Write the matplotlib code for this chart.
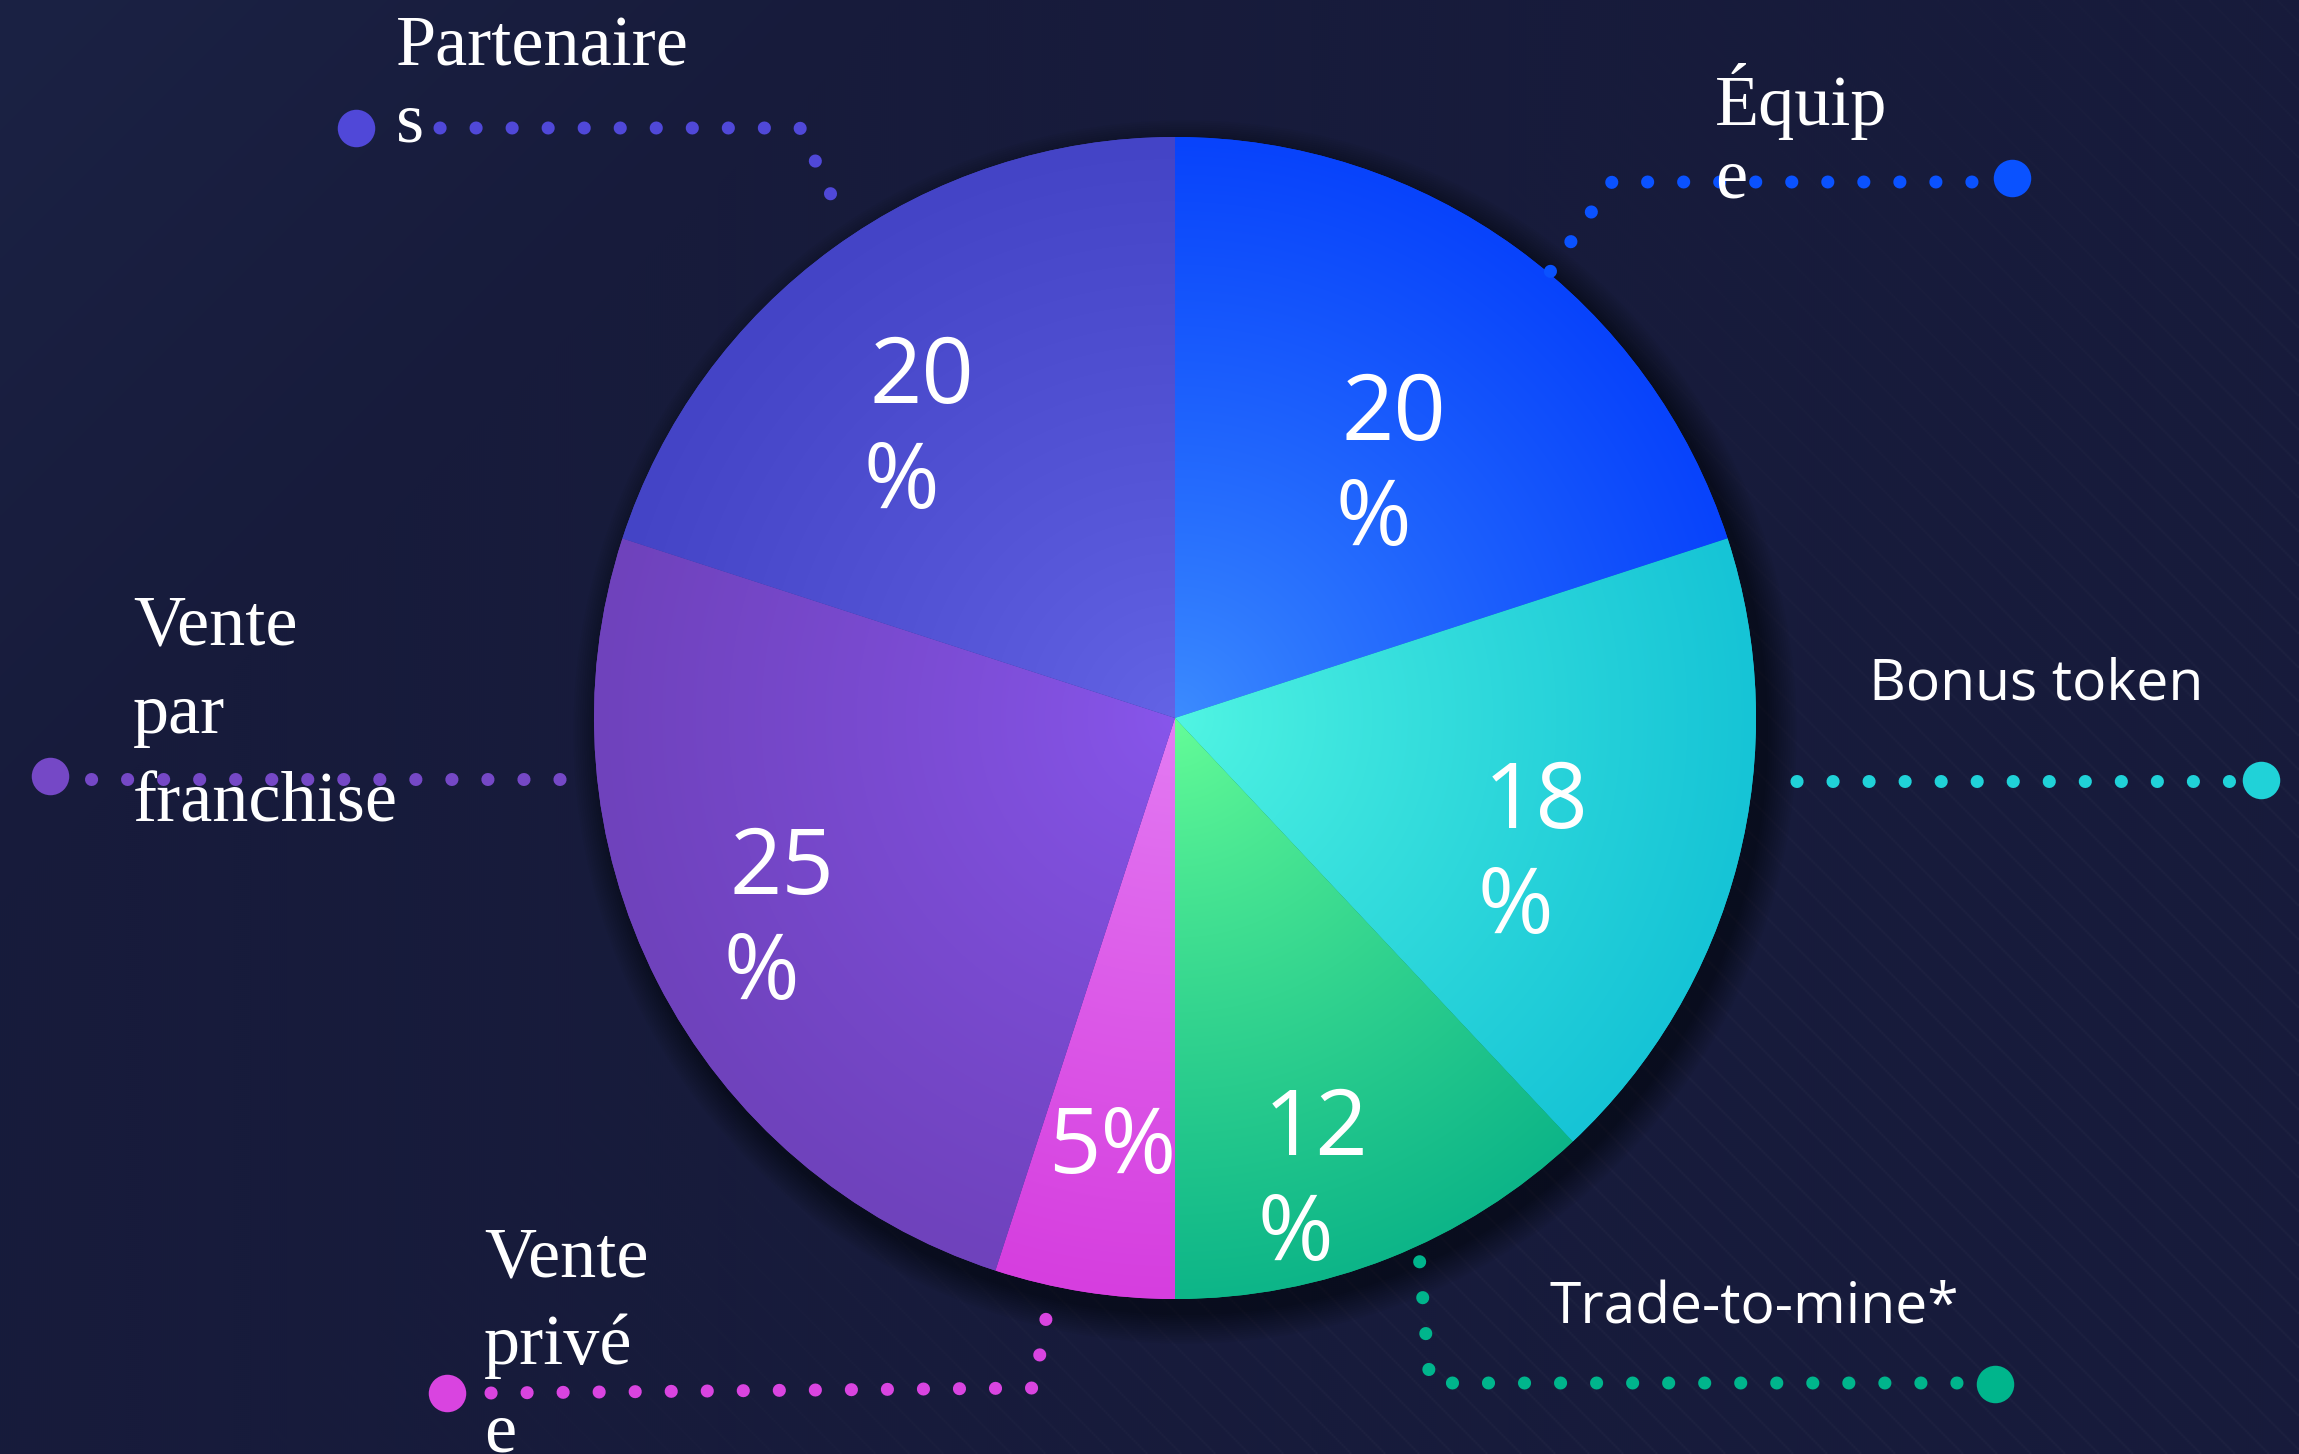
import numpy as np
import matplotlib.pyplot as plt
from matplotlib.colors import to_rgb
from matplotlib.patches import Circle

W, H = 2299, 1454

# Données : répartition des tokens (ordre horaire depuis midi)
labels = ['Équip\ne', 'Bonus token', 'Trade-to-mine*', 'Vente\nprivé\ne',
          'Vente\npar\nfranchise', 'Partenaire\ns']
values = [20, 18, 12, 5, 25, 20]
inner_colors = ['#3d8dff', '#52f6e3', '#66fe98', '#e47ef4', '#8856ec', '#6464e6']
outer_colors = ['#0843fb', '#16c4d6', '#0db588', '#d63edf', '#6f42bc', '#4444c6']
dot_colors = ['#0a52ff', '#20d2d8', '#00b58c', '#d944e0', '#7548c6', '#5048d8']
serif_label = [True, False, False, True, True, True]

cx, cy, R = 1175, 718, 581
bg = '#171b3b'

fig = plt.figure(figsize=(W / 100, H / 100), dpi=100)
ax = fig.add_axes([0, 0, 1, 1])

# fond : léger dégradé + fines rayures diagonales en bas à droite
yy, xx = np.mgrid[0:H:2, 0:W:2]
base = np.array(to_rgb(bg))
light = np.array(to_rgb('#1b2244'))
t = np.clip(1 - (xx + yy) / 900.0, 0, 1)[..., None]
img = base * (1 - t) + light * t
stripes = (((xx - yy) % 34) < 2).astype(float)
fade = np.clip((xx + yy - 1700) / 1200.0, 0, 1)
a = (0.035 * stripes * fade)[..., None]
img = img * (1 - a) + a
ax.imshow(img, extent=(0, W, H, 0), zorder=0, interpolation='bilinear')

# ombre du camembert
for i in range(14):
    ax.add_patch(Circle((cx + 10, cy + 14), R + 2 + i * 2.2, color='black',
                        alpha=0.035, lw=0, zorder=0.5))

wedges, _ = ax.pie(values, startangle=-90, counterclock=True,
                   center=(cx, cy), radius=R, colors=outer_colors,
                   wedgeprops=dict(linewidth=0, zorder=1))

# dégradé radial dans chaque part
g = np.linspace(-1, 1, 700)
gx, gy = np.meshgrid(g, g)
rr = np.clip(np.sqrt(gx ** 2 + gy ** 2), 0, 1) ** 0.85
for w, ci, co in zip(wedges, inner_colors, outer_colors):
    ci, co = np.array(to_rgb(ci)), np.array(to_rgb(co))
    grad = ci * (1 - rr[..., None]) + co * rr[..., None]
    im = ax.imshow(grad, extent=(cx - R, cx + R, cy + R, cy - R), zorder=2,
                   interpolation='bilinear')
    im.set_clip_path(w)

# pourcentages
pct_pos = [(1342, 440), (1484, 828), (1264, 1155), (1048, 1173), (730, 894), (869, 403)]
for v, (px, py) in zip(values, pct_pos):
    if v < 10:
        ax.text(px, py, f'{v}%', color='white', fontsize=66, family='Open Sans',
                va='baseline', ha='left', zorder=5)
    else:
        ax.text(px, py, str(v), color='white', fontsize=66, family='Open Sans',
                va='baseline', ha='left', zorder=5)
        ax.text(px - 6, py + 105, '%', color='white', fontsize=66, family='Open Sans',
                va='baseline', ha='left', zorder=5)

# lignes pointillées vers les étiquettes (depuis le gros point vers le camembert)
leaders = [
    [(1972, 182), (1612, 182), (1550, 272)],
    [(2229, 781), (1764, 781)],
    [(1957, 1383), (1430, 1383), (1419, 1254)],
    [(491, 1393), (1034, 1388), (1051, 1290)],
    [(91, 779), (584, 779)],
    [(440, 128), (800, 128), (845, 225)],
]
end_dots = [(2012, 178), (2261, 780), (1995, 1384), (447, 1393), (50, 776), (356, 128)]
for path, end, c in zip(leaders, end_dots, dot_colors):
    px, py = zip(*path)
    ax.plot(px, py, color=c, lw=9.4, linestyle=(0, (0.01, 2.75)),
            dash_capstyle='round', zorder=3)
    ax.plot(end[0], end[1], 'o', color=c, markersize=27, markeredgewidth=0, zorder=3)

# étiquettes
label_pos = [(1715, [125, 198]), (1869, [699]), (1550, [1324]),
             (484, [1276, 1364, 1452]), (133, [645, 733, 821]), (396, [66, 142])]
for lab, (lx, bases), serif in zip(labels, label_pos, serif_label):
    for line, by in zip(lab.split('\n'), bases):
        if serif:
            ax.text(lx, by, line, color='white', fontsize=52, family='Liberation Serif',
                    va='baseline', ha='left', zorder=6)
        else:
            ax.text(lx, by, line, color='white', fontsize=41, family='Open Sans',
                    va='baseline', ha='left', zorder=6)

ax.set_xlim(0, W)
ax.set_ylim(H, 0)
ax.set_aspect('auto')
ax.axis('off')
fig.savefig('out.png', dpi=100, facecolor=bg)
